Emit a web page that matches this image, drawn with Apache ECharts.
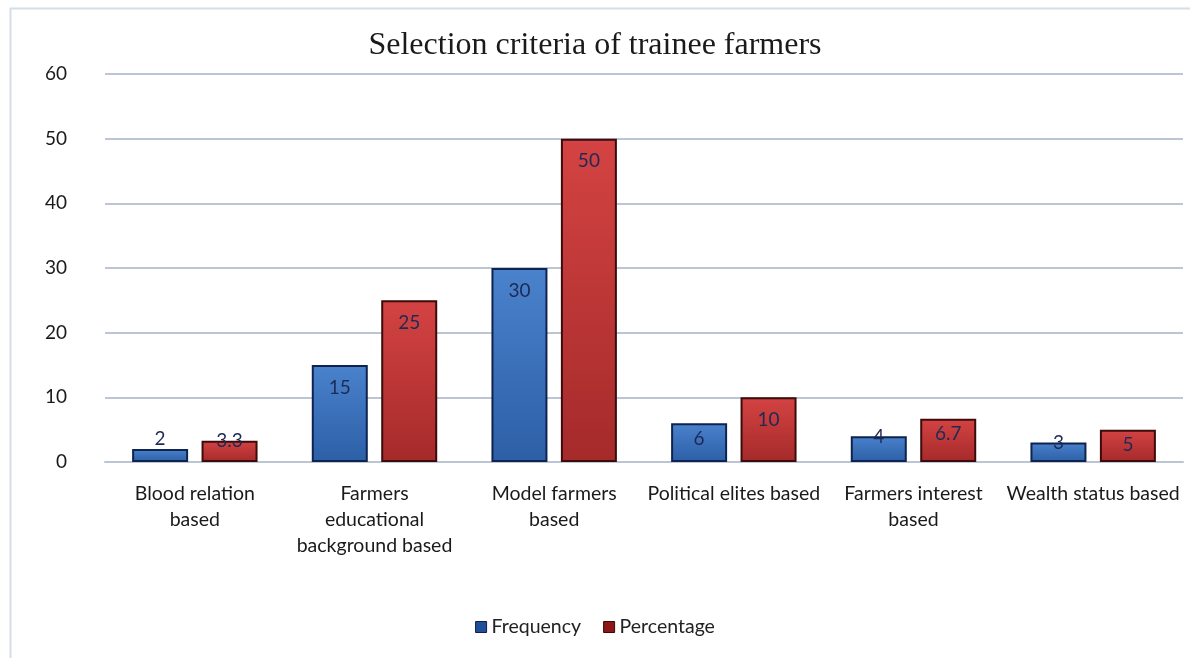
<!DOCTYPE html>
<html>
<head>
<meta charset="utf-8">
<script src="https://cdn.jsdelivr.net/npm/echarts@6/dist/echarts.min.js"></script>
<style>
  html, body { margin: 0; padding: 0; background: #fff; }
  #chart { width: 1190px; height: 658px; }
</style>
</head>
<body>
<div id="chart"></div>
<script>
// data
var categories = [
    'Blood relation\nbased',
    'Farmers\neducational\nbackground based',
    'Model farmers\nbased',
    'Political elites based',
    'Farmers interest\nbased',
    'Wealth status based'
];
var frequency = [2, 15, 30, 6, 4, 3];
var percentage = [3.3, 25, 50, 10, 6.7, 5];
var yTicks = [0, 10, 20, 30, 40, 50, 60];

var labelColor = '#1e2a55';

// short bars: Excel pushes the label up onto the bar top
function toItems(arr){
    return arr.map(function(v){
        if(v < 5){
            return {value: v, label: {position: 'top', distance: v < 3 ? 1 : -10}};
        }
        if(v < 8){
            return {value: v, label: {distance: 6}};
        }
        return v;
    });
}

function barGradient(top, bottom){
    return new echarts.graphic.LinearGradient(0, 0, 0, 1, [
        {offset: 0, color: top},
        {offset: 1, color: bottom}
    ]);
}

var chart = echarts.init(document.getElementById('chart'));
chart.setOption({
    backgroundColor: '#fff',
    animation: false,
    graphic: [{
        type: 'rect',
        left: 8,
        top: 6,
        shape: {width: 1200, height: 700},
        style: {fill: 'none', stroke: '#d5dde8', lineWidth: 2},
        silent: true
    }],
    title: {
        text: 'Selection criteria of trainee farmers',
        left: 'center',
        top: 25,
        textStyle: {
            fontFamily: 'Liberation Serif',
            fontSize: 32,
            fontWeight: 'normal',
            color: '#1a1a1a'
        }
    },
    legend: {
        bottom: 16,
        left: 'center',
        itemWidth: 11,
        itemHeight: 11,
        itemGap: 22,
        icon: 'rect',
        textStyle: {
            fontFamily: 'Lato',
            fontSize: 19.5,
            color: '#222'
        },
        data: [
            {name: 'Frequency', itemStyle: {color: '#1f4f96', borderColor: '#0e1f40', borderWidth: 1}},
            {name: 'Percentage', itemStyle: {color: '#8e1616', borderColor: '#3a0808', borderWidth: 1}}
        ]
    },
    grid: {
        left: 105,
        right: 7,
        top: 74,
        bottom: 196,
        containLabel: false
    },
    xAxis: {
        type: 'category',
        data: categories,
        axisLine: {show: true, lineStyle: {color: '#bcc5d3', width: 2}},
        axisTick: {show: false},
        axisLabel: {
            interval: 0,
            margin: 19,
            fontFamily: 'Lato',
            fontSize: 19.5,
            lineHeight: 26,
            color: '#1a1a1a'
        }
    },
    yAxis: {
        type: 'value',
        min: yTicks[0],
        max: yTicks[yTicks.length - 1],
        interval: 10,
        axisLine: {show: false},
        axisTick: {show: false},
        axisLabel: {
            margin: 38,
            fontFamily: 'Lato',
            fontSize: 19,
            color: '#1a1a1a'
        },
        splitLine: {lineStyle: {color: '#bcc5d3', width: 2}}
    },
    series: [
        {
            name: 'Frequency',
            type: 'bar',
            data: toItems(frequency),
            barWidth: 56,
            barGap: '24%',
            itemStyle: {
                color: barGradient('#4a82cc', '#2c5fa6'),
                borderColor: '#0f2350',
                borderWidth: 2
            },
            label: {
                show: true,
                position: 'insideTop',
                distance: 13,
                fontFamily: 'Lato',
                fontSize: 19,
                color: labelColor
            }
        },
        {
            name: 'Percentage',
            type: 'bar',
            data: toItems(percentage),
            barWidth: 56,
            itemStyle: {
                color: barGradient('#d44343', '#a52a2a'),
                borderColor: '#3c0b0b',
                borderWidth: 2
            },
            label: {
                show: true,
                position: 'insideTop',
                distance: 13,
                fontFamily: 'Lato',
                fontSize: 19,
                color: labelColor
            }
        }
    ]
});
</script>
</body>
</html>
